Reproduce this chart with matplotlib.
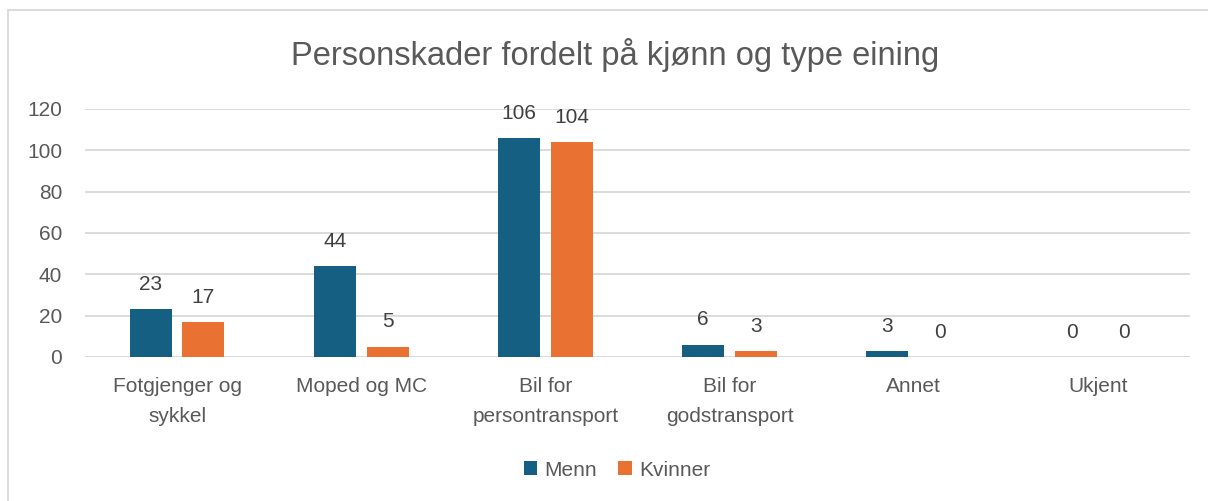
import matplotlib
matplotlib.use("Agg")
import matplotlib.pyplot as plt
from matplotlib.patches import Rectangle
import numpy as np

categories = ["Fotgjenger og\nsykkel", "Moped og MC", "Bil for\npersontransport",
              "Bil for\ngodstransport", "Annet", "Ukjent"]
menn = [23, 44, 106, 6, 3, 0]
kvinner = [17, 5, 104, 3, 0, 0]
series_names = ["Menn", "Kvinner"]
yticks = [0, 20, 40, 60, 80, 100, 120]

plt.rcParams['font.family'] = ['Liberation Sans', 'DejaVu Sans']

txt = "#595959"
c_menn = "#156082"
c_kv = "#E97132"

fig = plt.figure(figsize=(12.08, 5.01), dpi=100)
fig.patches.append(Rectangle((8/1208, -0.1), 1.2, 1 - 10/501 + 0.1, transform=fig.transFigure,
                             fill=False, edgecolor="#d9d9d9", linewidth=1.3))
ax = fig.add_axes([85/1208, 1 - 357/501, (1190 - 85)/1208, (357 - 109)/501])

x = np.arange(len(categories))
w = 0.228
off = 0.143
b1 = ax.bar(x - off, menn, w, color=c_menn, zorder=3)
b2 = ax.bar(x + off, kvinner, w, color=c_kv, zorder=3)
for bars, vals in ((b1, menn), (b2, kvinner)):
    for r, v in zip(bars, vals):
        ax.annotate(str(v), (r.get_x() + r.get_width()/2, v), xytext=(0, 11),
                    textcoords="offset points", ha="center", va="bottom",
                    fontsize=15, color="#404040")

ax.set_xlim(-0.5, len(categories) - 0.5)
ax.set_ylim(0, 120)
ax.set_yticks(yticks)
ax.set_xticks(x)
ax.set_xticklabels(categories, fontsize=15, color=txt, linespacing=1.75)
ax.tick_params(axis='y', labelsize=15, labelcolor=txt, length=0, pad=16.5)
ax.tick_params(axis='x', length=0, pad=14.5)
ax.grid(axis='y', color="#d9d9d9", linewidth=1.3, zorder=0)
for s in ax.spines.values():
    s.set_visible(False)
ax.axhline(0, color="#d9d9d9", linewidth=1.3, zorder=1)

fig.text(615/1208, 1 - 55/501, "Personskader fordelt på kjønn og type eining",
         ha="center", va="center", fontsize=23.5, color=txt)

leg = fig.legend([b1, b2], series_names, loc="center", bbox_to_anchor=(617/1208, 1 - 470/501),
                 ncol=2, frameon=False, fontsize=15, handlelength=0.65, handleheight=0.65,
                 handletextpad=0.35, columnspacing=1.0, labelcolor=txt)

fig.savefig("out.png", dpi=100)
